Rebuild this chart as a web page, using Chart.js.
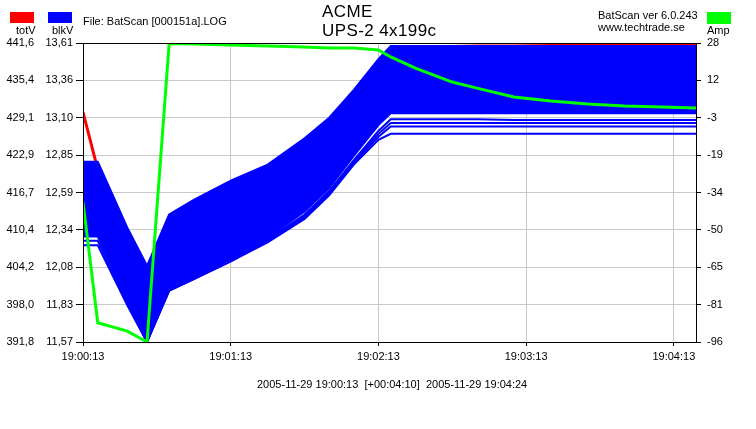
<!DOCTYPE html>
<html lang="en">
<head>
<meta charset="UTF-8">
<title>BatScan</title>
<script src="https://cdn.jsdelivr.net/npm/chart.js"></script>
<style>
    body { margin: 0; background: #fff; font-family: "Liberation Sans", Arial, sans-serif; color: #000; }
    #wrap { position: relative; width: 756px; height: 429px; overflow: hidden; }
    #chart { position: absolute; left: 0; top: 0; }
    .txt { position: absolute; font-size: 11px; line-height: 1; white-space: nowrap; }
    .big { position: absolute; font-size: 17px; line-height: 1; letter-spacing: 0.4px; white-space: nowrap; }
    .box { position: absolute; width: 24px; height: 11px; }
</style>
</head>
<body>
<div id="wrap">
    <canvas id="chart" width="756" height="429"></canvas>
    <div class="box" style="left:10px;top:12px;background:#ff0000"></div>
    <div class="box" style="left:48px;top:12px;background:#0000ff"></div>
    <div class="box" style="left:707px;top:12px;height:12px;background:#00ff00"></div>
    <div class="txt" style="left:16px;top:25px">totV</div>
    <div class="txt" style="left:52px;top:25px">blkV</div>
    <div class="txt" style="left:707px;top:25px">Amp</div>
    <div class="txt" style="left:83px;top:16px">File: BatScan [000151a].LOG</div>
    <div class="big" style="left:322px;top:3px">ACME</div>
    <div class="big" style="left:322px;top:22px">UPS-2 4x199c</div>
    <div class="txt" style="left:598px;top:10px">BatScan ver 6.0.243</div>
    <div class="txt" style="left:598px;top:22px">www.techtrade.se</div>
    <div class="txt" style="left:257px;top:379px">2005-11-29 19:00:13&nbsp; [+00:04:10]&nbsp; 2005-11-29 19:04:24</div>
</div>

<script>
    // seconds after 19:00:13
    var times = [0, 6, 18, 26, 35, 45, 60, 75, 90, 100, 110, 120, 125, 135, 150, 160, 175, 190, 205, 220, 235, 249];

    // total voltage
    var totV = [430.1, 420.5, 399.3, 392.1, 401.8, 404.5, 407.5, 410.5, 415.0, 420.0, 427.0, 436.0, 440.6, 440.9, 441.0, 441.1, 441.1, 441.2, 441.3, 441.3, 441.4, 441.5];

    // block voltages: upper and lower edge of the dense bundle
    var blkTop = [12.80, 12.80, 12.35, 12.09, 12.44, 12.54, 12.67, 12.78, 12.96, 13.10, 13.29, 13.50, 13.59, 13.59, 13.59, 13.59, 13.59, 13.59, 13.59, 13.59, 13.59, 13.59];
    var blkMid = [12.29, 12.29, 11.86, 11.57, 11.93, 12.01, 12.14, 12.28, 12.46, 12.62, 12.84, 13.05, 13.13, 13.13, 13.13, 13.13, 13.13, 13.13, 13.13, 13.13, 13.13, 13.13];
    // weakest blocks, drawn one by one
    var blkLow1 = [12.33, 12.33, 11.85, 11.58, 11.93, 12.01, 12.13, 12.27, 12.44, 12.60, 12.81, 13.01, 13.09, 13.09, 13.09, 13.09, 13.085, 13.085, 13.085, 13.085, 13.085, 13.085];
    var blkLow2 = [12.30, 12.30, 11.84, 11.58, 11.92, 12.00, 12.13, 12.26, 12.43, 12.59, 12.80, 12.99, 13.065, 13.065, 13.065, 13.065, 13.065, 13.065, 13.065, 13.065, 13.065, 13.065];
    var blkLow3 = [12.26, 12.26, 11.83, 11.57, 11.92, 12.00, 12.12, 12.26, 12.42, 12.58, 12.79, 12.97, 13.04, 13.04, 13.04, 13.04, 13.04, 13.04, 13.04, 13.04, 13.04, 13.04];
    var blkLow4 = [12.23, 12.23, 11.82, 11.57, 11.92, 12.00, 12.12, 12.25, 12.41, 12.57, 12.78, 12.95, 12.99, 12.99, 12.99, 12.99, 12.99, 12.99, 12.99, 12.99, 12.99, 12.99];

    // current
    var amp = [-38, -88, -91.5, -96, 27.8, 27.6, 27.2, 26.8, 26.3, 25.9, 25.9, 25.1, 22.2, 17.6, 11.8, 9.3, 5.6, 3.9, 2.7, 1.9, 1.5, 1.0];

    // axis labels
    var timeTicks = [0, 60, 120, 180, 240];
    var timeLabels = ['19:00:13', '19:01:13', '19:02:13', '19:03:13', '19:04:13'];
    var totVLabels = ['441,6', '435,4', '429,1', '422,9', '416,7', '410,4', '404,2', '398,0', '391,8'];
    var blkVLabels = ['13,61', '13,36', '13,10', '12,85', '12,59', '12,34', '12,08', '11,83', '11,57'];
    var ampLabels = ['28', '12', '-3', '-19', '-34', '-50', '-65', '-81', '-96'];

    function pts(arr) {
        return times.map(function (t, i) { return { x: t, y: arr[i] }; });
    }

    // 8 equal divisions, labels read top-down
    function nineTicks(scale) {
        var list = [];
        for (var i = 0; i <= 8; i++) list.push({ value: scale.min + (scale.max - scale.min) * i / 8 });
        scale.ticks = list;
    }
    function labelsFrom(arr) {
        return function (value, index) { return arr[8 - index]; };
    }

    var BLUE = '#0000ff';
    var GRID = '#c8c8c8';
    Chart.defaults.font.family = '"Liberation Sans", Arial, sans-serif';
    Chart.defaults.font.size = 11;
    Chart.defaults.color = '#000';

    function blueLine(label, arr, fill) {
        return {
            label: label, data: pts(arr), yAxisID: 'yV',
            borderColor: BLUE, backgroundColor: BLUE, borderWidth: 2,
            fill: fill, order: 1
        };
    }

    // black frame round the plot area
    var frame = {
        id: 'frame',
        afterDatasetsDraw: function (chart) {
            var a = chart.chartArea, c = chart.ctx;
            c.save();
            c.strokeStyle = '#000';
            c.lineWidth = 1;
            c.strokeRect(a.left + 0.5, a.top + 0.5, a.right - a.left, a.bottom - a.top);
            c.restore();
        }
    };

    new Chart(document.getElementById('chart'), {
        type: 'line',
        data: {
            datasets: [
                { label: 'Amp', data: pts(amp), yAxisID: 'yA', borderColor: '#00ff00', borderWidth: 3, fill: false, order: 0 },
                blueLine('blkV top', blkTop, '+1'),
                blueLine('blkV mid', blkMid, false),
                blueLine('blkV 1', blkLow1, false),
                blueLine('blkV 2', blkLow2, false),
                blueLine('blkV 3', blkLow3, false),
                blueLine('blkV 4', blkLow4, false),
                { label: 'totV', data: pts(totV), yAxisID: 'yT', borderColor: '#ff0000', borderWidth: 3, fill: false, order: 2 }
            ]
        },
        options: {
            responsive: false,
            animation: false,
            layout: { padding: { top: 43, left: 0, right: 0, bottom: 0 } },
            plugins: { legend: { display: false }, tooltip: { enabled: false } },
            elements: { point: { radius: 0 }, line: { tension: 0 } },
            scales: {
                x: {
                    type: 'linear', min: 0, max: 249,
                    afterBuildTicks: function (s) { s.ticks = timeTicks.map(function (v) { return { value: v }; }); },
                    afterFit: function (s) { s.height = 87; },
                    grid: { color: GRID, tickColor: '#000', tickLength: 4 },
                    border: { color: '#000' },
                    ticks: {
                        autoSkip: false, maxRotation: 0, padding: 4,
                        callback: function (v, i) { return timeLabels[i]; }
                    }
                },
                yT: {
                    position: 'left', weight: 1, min: 391.8, max: 441.6,
                    afterBuildTicks: nineTicks,
                    afterFit: function (s) { s.width = 40; },
                    grid: { display: false, drawTicks: false },
                    border: { display: false },
                    ticks: { padding: 6, callback: labelsFrom(totVLabels) }
                },
                yV: {
                    position: 'left', weight: 0, min: 11.57, max: 13.61,
                    afterBuildTicks: nineTicks,
                    afterFit: function (s) { s.width = 43; },
                    grid: { color: GRID, tickColor: '#000', tickLength: 7 },
                    border: { color: '#000' },
                    ticks: { padding: 3, callback: labelsFrom(blkVLabels) }
                },
                yA: {
                    position: 'right', min: -96, max: 28,
                    afterBuildTicks: nineTicks,
                    afterFit: function (s) { s.width = 60; },
                    grid: { drawOnChartArea: false, tickColor: '#000', tickLength: 5 },
                    border: { color: '#000' },
                    ticks: { padding: 6, callback: labelsFrom(ampLabels) }
                }
            }
        },
        plugins: [frame]
    });
</script>
</body>
</html>
